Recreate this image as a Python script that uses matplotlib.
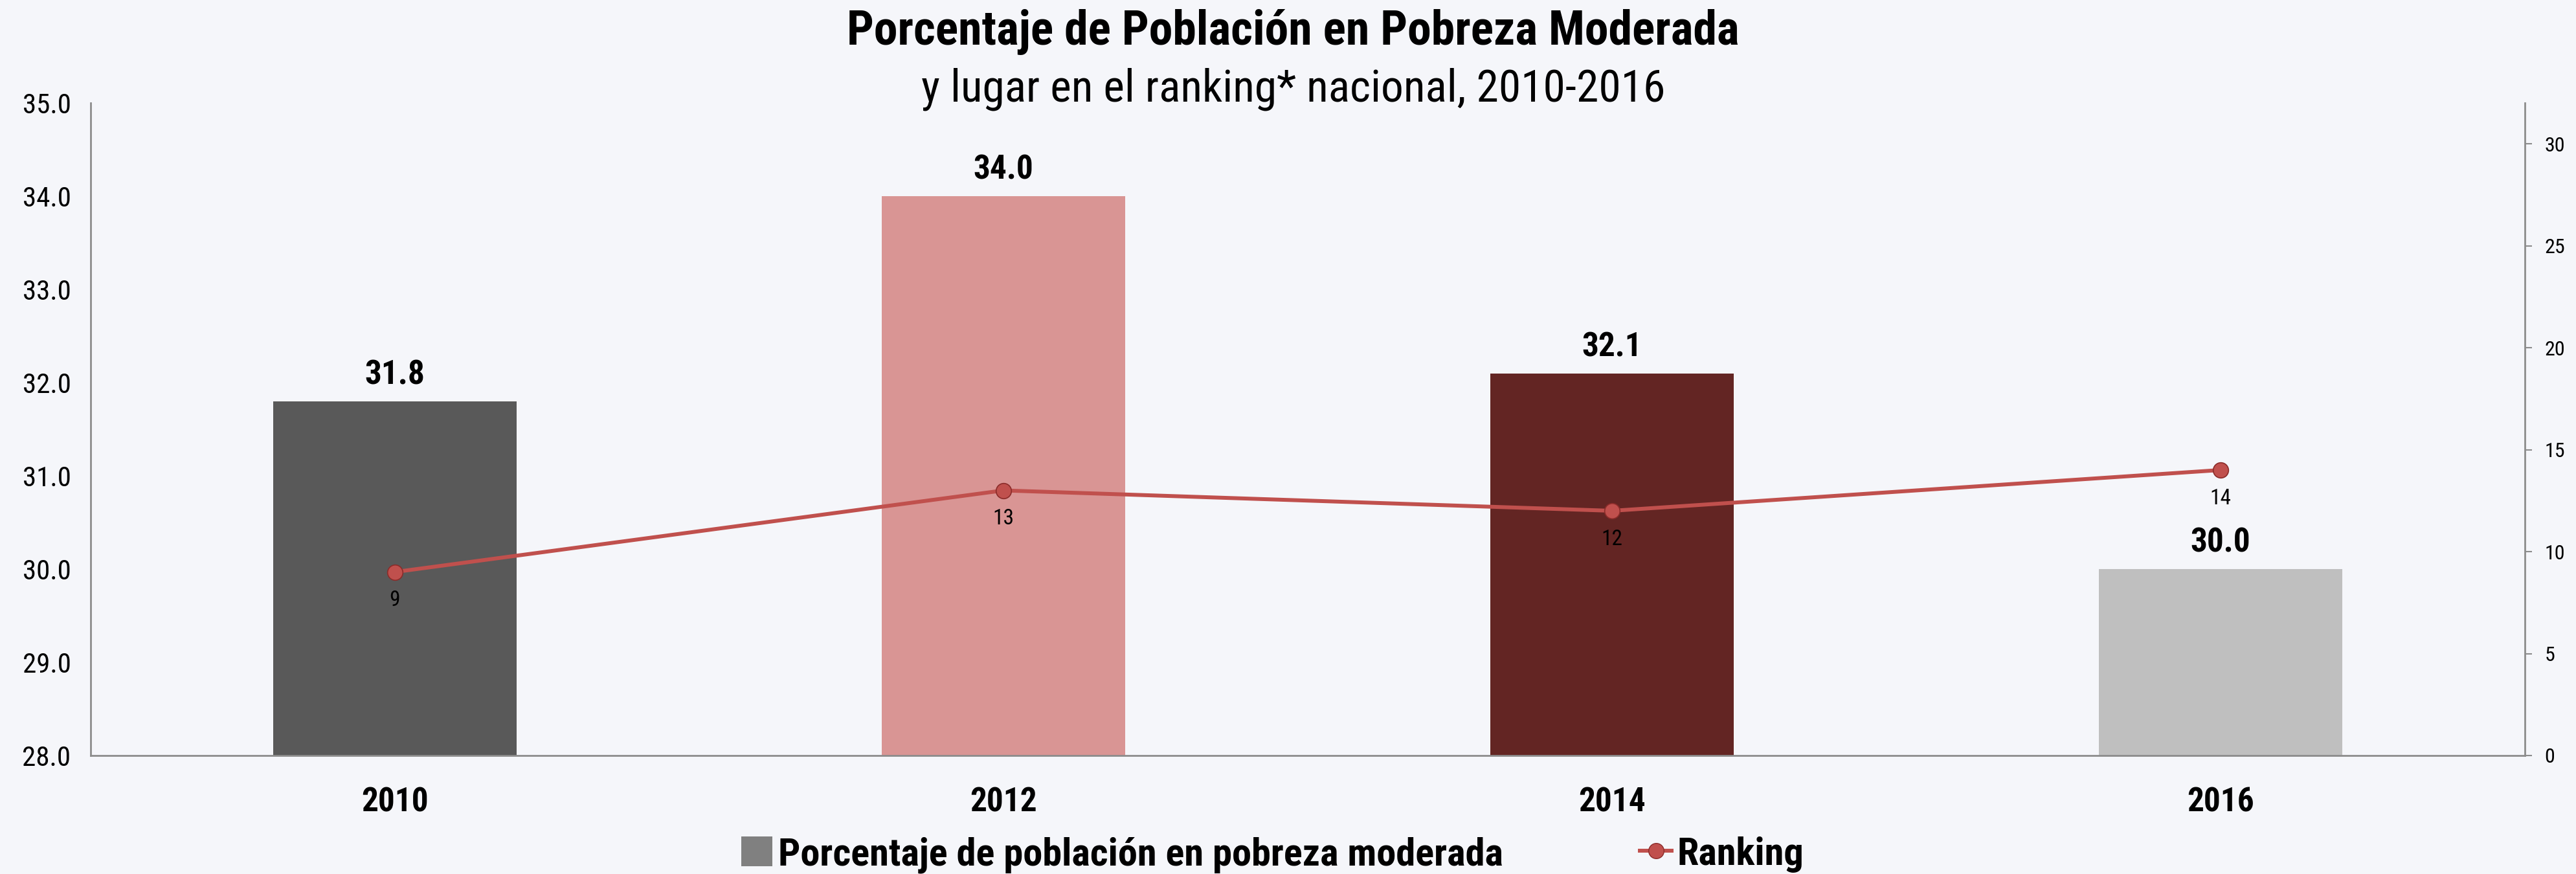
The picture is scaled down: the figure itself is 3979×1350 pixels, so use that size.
import matplotlib
matplotlib.use("Agg")
import matplotlib.pyplot as plt
from matplotlib.lines import Line2D
from matplotlib.patches import Patch
from matplotlib import font_manager

names = {f.name for f in font_manager.fontManager.ttflist}
fams = [f for f in ['Liberation Sans Narrow', 'Roboto Condensed', 'Arial Narrow', 'Roboto'] if f in names]
plt.rcParams['font.family'] = fams + ['DejaVu Sans']

years = ["2010", "2012", "2014", "2016"]
porcentaje = [31.8, 34.0, 32.1, 30.0]
ranking = [9, 13, 12, 14]
bar_colors = ["#595959", "#D99594", "#632523", "#BFBFBF"]
left_ticks = [28.0, 29.0, 30.0, 31.0, 32.0, 33.0, 34.0, 35.0]
right_ticks = [0, 5, 10, 15, 20, 25, 30]

bg = "#F5F6FA"
fig = plt.figure(figsize=(39.79, 13.5), dpi=100, facecolor=bg)
ax = fig.add_axes([140/3979, 1-1167/1350, (3900-140)/3979, (1167-159)/1350])
ax.set_facecolor(bg)
x = list(range(len(years)))
ax.bar(x, [v - 28.0 for v in porcentaje], bottom=28.0, width=0.40, color=bar_colors, zorder=2)
ax.set_xlim(-0.5, 3.5)
ax.set_ylim(28.0, 35.0)
ax.set_yticks(left_ticks)
ax.set_yticklabels([f"{t:.1f}" for t in left_ticks], fontsize=31)
ax.tick_params(axis='y', length=0, pad=22)
ax.set_xticks(x)
ax.set_xticklabels(years, fontsize=37, fontweight='bold')
ax.tick_params(axis='x', length=0, pad=34)
for s in ['top', 'right']:
    ax.spines[s].set_visible(False)
for s in ['left', 'bottom']:
    ax.spines[s].set_color('#8C8C8C')
    ax.spines[s].set_linewidth(2)

for xi, v in zip(x, porcentaje):
    ax.annotate(f"{v:.1f}", (xi, v), xytext=(0, 11), textcoords='offset points',
                ha='center', va='bottom', fontsize=37, fontweight='bold', zorder=5)

ax2 = ax.twinx()
ax2.set_ylim(0, 32)
ax2.set_yticks(right_ticks)
ax2.set_yticklabels([str(t) for t in right_ticks], fontsize=23)
ax2.tick_params(axis='y', length=8, width=1.5, color='#8C8C8C', pad=14)
for s in ['top', 'left', 'bottom']:
    ax2.spines[s].set_visible(False)
ax2.spines['right'].set_color('#8C8C8C')
ax2.spines['right'].set_linewidth(2)
ax2.plot(x, ranking, color='#C0504D', linewidth=4.3, marker='o', markersize=17,
         markerfacecolor='#C0504D', markeredgecolor='#8B2C2A', markeredgewidth=1.2, zorder=4)
for xi, r in zip(x, ranking):
    ax2.annotate(str(r), (xi, r), xytext=(0, -20), textcoords='offset points',
                 ha='center', va='top', fontsize=24)

fig.text(0.502, 0.963, "Porcentaje de Población en Pobreza Moderada", ha='center', va='center',
         fontsize=53, fontweight='bold')
fig.text(0.502, 0.898, "y lugar en el ranking* nacional, 2010-2016", ha='center', va='center',
         fontsize=50)

handles = [Patch(facecolor='#808080', edgecolor='none'),
           Line2D([0], [0], color='#C0504D', linewidth=4.3, marker='o', markersize=17,
                  markerfacecolor='#C0504D', markeredgecolor='#8B2C2A')]
fig.legend(handles, ["Porcentaje de población en pobreza moderada", "Ranking"],
           loc='center', bbox_to_anchor=(0.494, 0.022), ncol=2, frameon=False,
           prop={'size': 43.5, 'weight': 'bold'}, handlelength=0.8, handleheight=0.8,
           handletextpad=0.15, columnspacing=3.5)

fig.savefig("out.png", dpi=100, facecolor=bg)
